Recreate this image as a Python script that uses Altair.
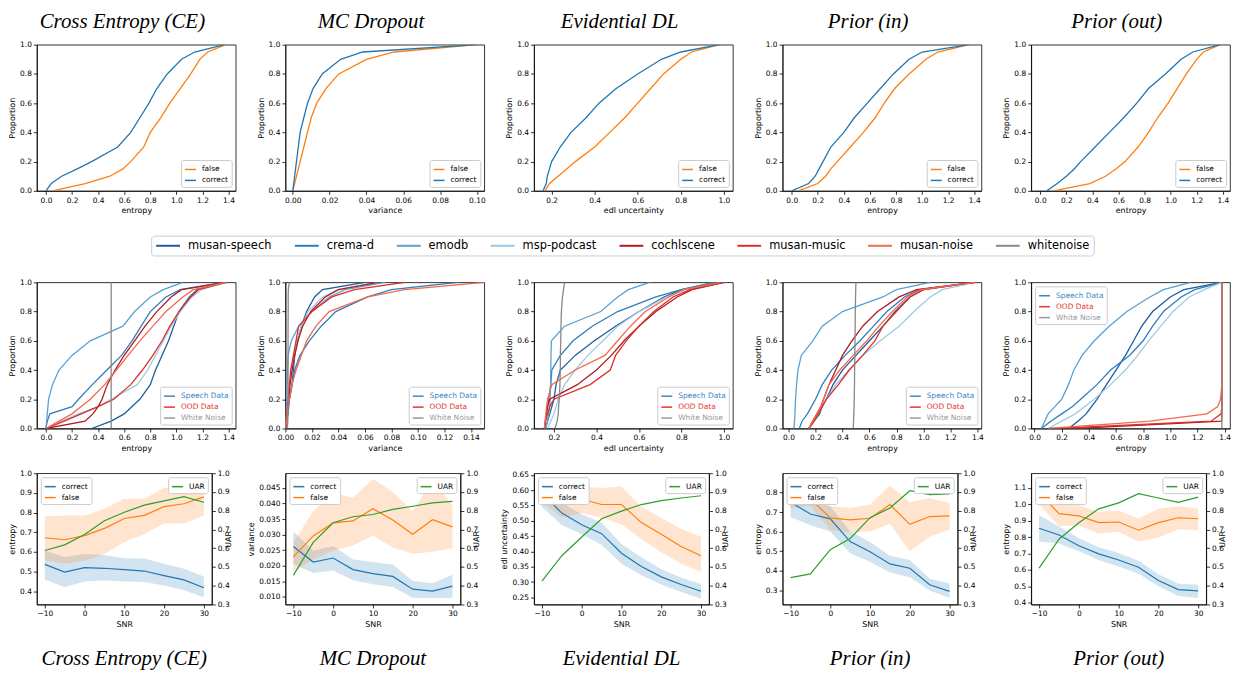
import altair as alt
import pandas as pd

# ---------------- data ----------------
LEVELS = [0.0, 0.05, 0.1, 0.15, 0.2, 0.3, 0.4, 0.5, 0.6, 0.7, 0.8, 0.9, 0.95, 1.0]

METHODS = ["Cross Entropy (CE)", "MC Dropout", "Evidential DL", "Prior (in)", "Prior (out)"]
XTITLES = ["entropy", "variance", "edl uncertainty", "entropy", "entropy"]

# Row 1: CDF of uncertainty, x value reached at each proportion level
CE_CORRECT = [0.0, 0.04, 0.12, 0.24, 0.35, 0.55, 0.65, 0.72, 0.79, 0.85, 0.93, 1.04, 1.14, 1.37]
CE_FALSE = [0.05, 0.3, 0.49, 0.59, 0.65, 0.75, 0.8, 0.88, 0.95, 1.03, 1.11, 1.18, 1.24, 1.38]
MC_CORRECT = [0.0, 0.0005, 0.001, 0.0015, 0.002, 0.003, 0.004, 0.006, 0.008, 0.011, 0.016, 0.026, 0.038, 0.1]
MC_FALSE = [0.0, 0.001, 0.002, 0.003, 0.004, 0.006, 0.008, 0.01, 0.013, 0.018, 0.025, 0.04, 0.055, 0.1]
EDL_CORRECT = [0.16, 0.175, 0.18, 0.19, 0.2, 0.24, 0.29, 0.36, 0.42, 0.5, 0.6, 0.71, 0.8, 0.98]
EDL_FALSE = [0.17, 0.19, 0.23, 0.27, 0.31, 0.4, 0.47, 0.54, 0.6, 0.66, 0.72, 0.8, 0.85, 0.98]
PIN_CORRECT = [0.0, 0.13, 0.18, 0.21, 0.24, 0.3, 0.4, 0.48, 0.58, 0.68, 0.78, 0.9, 1.0, 1.36]
PIN_FALSE = [0.05, 0.2, 0.26, 0.3, 0.35, 0.45, 0.55, 0.64, 0.71, 0.79, 0.9, 1.03, 1.12, 1.36]
POUT_CORRECT = [0.05, 0.13, 0.2, 0.26, 0.31, 0.42, 0.53, 0.64, 0.74, 0.83, 0.96, 1.08, 1.17, 1.38]
POUT_FALSE = [0.1, 0.38, 0.5, 0.58, 0.65, 0.75, 0.83, 0.9, 0.98, 1.05, 1.12, 1.2, 1.25, 1.38]

TOP_CORRECT = [CE_CORRECT, MC_CORRECT, EDL_CORRECT, PIN_CORRECT, POUT_CORRECT]
TOP_FALSE = [CE_FALSE, MC_FALSE, EDL_FALSE, PIN_FALSE, POUT_FALSE]

# Row 2: CDF per dataset
DATASETS = ["musan-speech", "crema-d", "emodb", "msp-podcast",
            "cochlscene", "musan-music", "musan-noise", "whitenoise"]

CE2_MUSAN_SPEECH = [0.35, 0.5, 0.6, 0.66, 0.72, 0.8, 0.84, 0.89, 0.94, 0.98, 1.02, 1.1, 1.16, 1.38]
CE2_CREMA_D = [0.0, 0.01, 0.03, 0.2, 0.25, 0.355, 0.467, 0.58, 0.66, 0.73, 0.8, 0.92, 1.03, 1.36]
CE2_EMODB = [0.0, 0.005, 0.01, 0.015, 0.02, 0.05, 0.1, 0.2, 0.34, 0.59, 0.68, 0.8, 0.9, 1.05]
CE2_MSP_PODCAST = [0.0, 0.12, 0.25, 0.4, 0.5, 0.7, 0.78, 0.84, 0.9, 0.96, 1.03, 1.12, 1.19, 1.38]
CE2_COCHLSCENE = [0.0, 0.3, 0.36, 0.4, 0.43, 0.47, 0.53, 0.6, 0.68, 0.76, 0.85, 0.96, 1.04, 1.38]
CE2_MUSAN_MUSIC = [0.0, 0.14, 0.27, 0.4, 0.52, 0.65, 0.74, 0.82, 0.89, 0.95, 1.02, 1.11, 1.17, 1.38]
CE2_MUSAN_NOISE = [0.0, 0.1, 0.2, 0.27, 0.34, 0.45, 0.54, 0.63, 0.72, 0.82, 0.92, 1.05, 1.13, 1.38]
CE2_WHITENOISE = [0.5, 0.5, 0.5, 0.5, 0.5, 0.5, 0.5, 0.5, 0.5, 0.5, 0.5, 0.5, 0.5, 0.5]

MC2_MUSAN_SPEECH = [0.0, 0.001, 0.002, 0.0025, 0.003, 0.005, 0.006, 0.007, 0.009, 0.012, 0.016, 0.022, 0.028, 0.06]
MC2_CREMA_D = [0.0, 0.001, 0.0015, 0.002, 0.003, 0.005, 0.007, 0.011, 0.018, 0.027, 0.038, 0.062, 0.08, 0.13]
MC2_EMODB = [0.0, 0.0003, 0.0005, 0.0008, 0.001, 0.0013, 0.0016, 0.002, 0.0045, 0.01, 0.02, 0.033, 0.045, 0.075]
MC2_MSP_PODCAST = [0.0, 0.0005, 0.001, 0.0015, 0.002, 0.003, 0.005, 0.0065, 0.0085, 0.012, 0.017, 0.028, 0.04, 0.07]
MC2_COCHLSCENE = [0.0, 0.0008, 0.0015, 0.002, 0.0025, 0.0035, 0.005, 0.007, 0.0095, 0.013, 0.019, 0.03, 0.04, 0.07]
MC2_MUSAN_MUSIC = [0.0, 0.0005, 0.001, 0.0015, 0.002, 0.003, 0.004, 0.006, 0.008, 0.01, 0.02, 0.035, 0.052, 0.09]
MC2_MUSAN_NOISE = [0.0, 0.001, 0.0015, 0.002, 0.003, 0.005, 0.008, 0.012, 0.016, 0.023, 0.033, 0.062, 0.09, 0.15]
MC2_WHITENOISE = [0.0015, 0.0018, 0.0019, 0.002, 0.002, 0.002, 0.002, 0.002, 0.002, 0.002, 0.0021, 0.0021, 0.0022, 0.003]

EDL2_MUSAN_SPEECH = [0.16, 0.17, 0.18, 0.19, 0.2, 0.21, 0.23, 0.3, 0.39, 0.49, 0.6, 0.72, 0.8, 0.97]
EDL2_CREMA_D = [0.155, 0.16, 0.165, 0.17, 0.175, 0.185, 0.19, 0.23, 0.29, 0.38, 0.5, 0.68, 0.8, 0.95]
EDL2_EMODB = [0.16, 0.17, 0.175, 0.18, 0.182, 0.184, 0.185, 0.186, 0.188, 0.25, 0.42, 0.5, 0.55, 0.65]
EDL2_MSP_PODCAST = [0.17, 0.185, 0.2, 0.21, 0.22, 0.25, 0.3, 0.36, 0.43, 0.5, 0.6, 0.73, 0.82, 1.0]
EDL2_COCHLSCENE = [0.155, 0.16, 0.165, 0.17, 0.18, 0.31, 0.4, 0.47, 0.53, 0.6, 0.68, 0.78, 0.85, 1.0]
EDL2_MUSAN_MUSIC = [0.155, 0.16, 0.17, 0.18, 0.2, 0.37, 0.465, 0.49, 0.54, 0.6, 0.67, 0.76, 0.84, 1.0]
EDL2_MUSAN_NOISE = [0.155, 0.158, 0.162, 0.165, 0.17, 0.19, 0.3, 0.44, 0.5, 0.56, 0.63, 0.74, 0.81, 0.98]
EDL2_WHITENOISE = [0.205, 0.215, 0.22, 0.222, 0.225, 0.228, 0.23, 0.23, 0.232, 0.233, 0.235, 0.24, 0.245, 0.25]

PIN2_MUSAN_SPEECH = [0.15, 0.19, 0.23, 0.25, 0.28, 0.33, 0.4, 0.5, 0.6, 0.7, 0.79, 0.9, 1.0, 1.38]
PIN2_CREMA_D = [0.08, 0.1, 0.14, 0.17, 0.2, 0.25, 0.32, 0.42, 0.53, 0.63, 0.73, 0.86, 0.97, 1.38]
PIN2_EMODB = [0.04, 0.045, 0.048, 0.05, 0.052, 0.06, 0.07, 0.095, 0.18, 0.25, 0.4, 0.7, 0.8, 1.05]
PIN2_MSP_PODCAST = [0.15, 0.19, 0.22, 0.25, 0.28, 0.35, 0.45, 0.55, 0.68, 0.82, 0.93, 1.05, 1.14, 1.38]
PIN2_COCHLSCENE = [0.15, 0.18, 0.21, 0.24, 0.26, 0.3, 0.35, 0.4, 0.47, 0.55, 0.66, 0.82, 0.95, 1.38]
PIN2_MUSAN_MUSIC = [0.15, 0.19, 0.22, 0.25, 0.28, 0.37, 0.45, 0.55, 0.64, 0.7, 0.8, 0.9, 1.0, 1.38]
PIN2_MUSAN_NOISE = [0.15, 0.18, 0.21, 0.24, 0.26, 0.3, 0.38, 0.48, 0.58, 0.67, 0.77, 0.88, 0.98, 1.38]
PIN2_WHITENOISE = [0.48, 0.482, 0.484, 0.486, 0.487, 0.489, 0.49, 0.492, 0.493, 0.494, 0.495, 0.497, 0.498, 0.5]

POUT2_MUSAN_SPEECH = [0.25, 0.32, 0.38, 0.42, 0.46, 0.53, 0.6, 0.67, 0.73, 0.79, 0.87, 1.0, 1.1, 1.38]
POUT2_CREMA_D = [0.05, 0.12, 0.2, 0.28, 0.34, 0.46, 0.56, 0.7, 0.8, 0.87, 0.95, 1.08, 1.18, 1.38]
POUT2_EMODB = [0.05, 0.075, 0.1, 0.15, 0.2, 0.25, 0.29, 0.35, 0.44, 0.55, 0.68, 0.85, 0.95, 1.15]
POUT2_MSP_PODCAST = [0.1, 0.2, 0.3, 0.37, 0.44, 0.56, 0.67, 0.76, 0.84, 0.93, 1.02, 1.14, 1.25, 1.38]
POUT2_COCHLSCENE = [0.3, 1.378, 1.38, 1.38, 1.38, 1.38, 1.38, 1.38, 1.38, 1.38, 1.38, 1.38, 1.38, 1.38]
POUT2_MUSAN_MUSIC = [0.15, 1.3, 1.375, 1.38, 1.38, 1.38, 1.38, 1.38, 1.38, 1.38, 1.38, 1.38, 1.38, 1.38]
POUT2_MUSAN_NOISE = [0.1, 0.85, 1.27, 1.35, 1.37, 1.38, 1.38, 1.38, 1.38, 1.38, 1.38, 1.38, 1.38, 1.38]
POUT2_WHITENOISE = [1.38, 1.38, 1.38, 1.38, 1.38, 1.38, 1.38, 1.38, 1.38, 1.38, 1.38, 1.38, 1.38, 1.38]

MID_CURVES = [
    [CE2_MUSAN_SPEECH, CE2_CREMA_D, CE2_EMODB, CE2_MSP_PODCAST, CE2_COCHLSCENE, CE2_MUSAN_MUSIC, CE2_MUSAN_NOISE, CE2_WHITENOISE],
    [MC2_MUSAN_SPEECH, MC2_CREMA_D, MC2_EMODB, MC2_MSP_PODCAST, MC2_COCHLSCENE, MC2_MUSAN_MUSIC, MC2_MUSAN_NOISE, MC2_WHITENOISE],
    [EDL2_MUSAN_SPEECH, EDL2_CREMA_D, EDL2_EMODB, EDL2_MSP_PODCAST, EDL2_COCHLSCENE, EDL2_MUSAN_MUSIC, EDL2_MUSAN_NOISE, EDL2_WHITENOISE],
    [PIN2_MUSAN_SPEECH, PIN2_CREMA_D, PIN2_EMODB, PIN2_MSP_PODCAST, PIN2_COCHLSCENE, PIN2_MUSAN_MUSIC, PIN2_MUSAN_NOISE, PIN2_WHITENOISE],
    [POUT2_MUSAN_SPEECH, POUT2_CREMA_D, POUT2_EMODB, POUT2_MSP_PODCAST, POUT2_COCHLSCENE, POUT2_MUSAN_MUSIC, POUT2_MUSAN_NOISE, POUT2_WHITENOISE],
]
GROUPS = ["Speech Data", "OOD Data", "White Noise"]

# Row 3: uncertainty vs SNR
SNR = [-10, -5, 0, 5, 10, 15, 20, 25, 30]

CE3_C = [0.537, 0.498, 0.52, 0.517, 0.51, 0.503, 0.48, 0.458, 0.418]
CE3_C_LO = [0.459, 0.422, 0.45, 0.455, 0.45, 0.447, 0.43, 0.405, 0.37]
CE3_C_HI = [0.607, 0.574, 0.59, 0.585, 0.568, 0.567, 0.54, 0.515, 0.475]
CE3_F = [0.672, 0.662, 0.683, 0.72, 0.77, 0.786, 0.83, 0.845, 0.88]
CE3_F_LO = [0.557, 0.54, 0.555, 0.59, 0.65, 0.69, 0.745, 0.745, 0.785]
CE3_F_HI = [0.78, 0.785, 0.785, 0.82, 0.87, 0.87, 0.925, 0.935, 0.955]
CE3_UAR = [0.588, 0.618, 0.673, 0.747, 0.792, 0.83, 0.853, 0.875, 0.845]

MC3_C = [0.0262, 0.0212, 0.0225, 0.0188, 0.0175, 0.0166, 0.0125, 0.0119, 0.0135]
MC3_C_LO = [0.0206, 0.0177, 0.0185, 0.0154, 0.0141, 0.0132, 0.0098, 0.0096, 0.0098]
MC3_C_HI = [0.0310, 0.0248, 0.0264, 0.0220, 0.0212, 0.0204, 0.0151, 0.0144, 0.0171]
MC3_F = [0.0229, 0.0296, 0.0338, 0.0344, 0.0383, 0.0347, 0.0301, 0.0348, 0.0325]
MC3_F_LO = [0.0179, 0.0220, 0.0248, 0.0265, 0.0297, 0.0259, 0.0239, 0.0245, 0.0256]
MC3_F_HI = [0.0275, 0.0375, 0.0434, 0.0418, 0.0479, 0.0437, 0.0375, 0.0476, 0.0393]
MC3_UAR = [0.455, 0.631, 0.736, 0.768, 0.78, 0.807, 0.824, 0.842, 0.85]

EDL3_C = [0.59, 0.525, 0.487, 0.458, 0.394, 0.351, 0.317, 0.292, 0.27]
EDL3_C_LO = [0.545, 0.486, 0.456, 0.422, 0.36, 0.322, 0.292, 0.268, 0.246]
EDL3_C_HI = [0.624, 0.559, 0.521, 0.494, 0.424, 0.381, 0.342, 0.314, 0.294]
EDL3_F = [0.595, 0.556, 0.571, 0.553, 0.553, 0.494, 0.456, 0.416, 0.386]
EDL3_F_LO = [0.56, 0.51, 0.525, 0.51, 0.489, 0.44, 0.397, 0.36, 0.333]
EDL3_F_HI = [0.63, 0.598, 0.612, 0.607, 0.612, 0.545, 0.51, 0.473, 0.448]
EDL3_UAR = [0.425, 0.56, 0.66, 0.757, 0.798, 0.833, 0.854, 0.868, 0.88]

PIN3_C = [0.75, 0.69, 0.665, 0.549, 0.497, 0.435, 0.413, 0.329, 0.295]
PIN3_C_LO = [0.674, 0.632, 0.6, 0.49, 0.446, 0.391, 0.367, 0.3, 0.261]
PIN3_C_HI = [0.822, 0.755, 0.729, 0.6, 0.547, 0.477, 0.455, 0.359, 0.334]
PIN3_F = [0.788, 0.768, 0.67, 0.66, 0.668, 0.738, 0.637, 0.677, 0.68]
PIN3_F_LO = [0.72, 0.729, 0.608, 0.595, 0.6, 0.64, 0.5, 0.574, 0.611]
PIN3_F_HI = [0.859, 0.822, 0.729, 0.72, 0.738, 0.835, 0.75, 0.771, 0.746]
PIN3_UAR = [0.443, 0.463, 0.592, 0.652, 0.763, 0.815, 0.907, 0.886, 0.89]

POUT3_C = [0.854, 0.813, 0.747, 0.697, 0.66, 0.616, 0.535, 0.479, 0.471]
POUT3_C_LO = [0.773, 0.761, 0.713, 0.66, 0.62, 0.576, 0.5, 0.44, 0.428]
POUT3_C_HI = [0.933, 0.864, 0.793, 0.737, 0.703, 0.656, 0.572, 0.515, 0.509]
POUT3_F = [1.07, 0.943, 0.929, 0.888, 0.892, 0.842, 0.888, 0.918, 0.912]
POUT3_F_LO = [0.999, 0.868, 0.87, 0.822, 0.832, 0.773, 0.797, 0.848, 0.842]
POUT3_F_HI = [1.14, 1.019, 0.995, 0.955, 0.963, 0.914, 0.973, 0.989, 0.975]
POUT3_UAR = [0.494, 0.648, 0.736, 0.81, 0.842, 0.891, 0.868, 0.845, 0.873]

SNR_ROWS = [
    (CE3_C, CE3_C_LO, CE3_C_HI, CE3_F, CE3_F_LO, CE3_F_HI, CE3_UAR),
    (MC3_C, MC3_C_LO, MC3_C_HI, MC3_F, MC3_F_LO, MC3_F_HI, MC3_UAR),
    (EDL3_C, EDL3_C_LO, EDL3_C_HI, EDL3_F, EDL3_F_LO, EDL3_F_HI, EDL3_UAR),
    (PIN3_C, PIN3_C_LO, PIN3_C_HI, PIN3_F, PIN3_F_LO, PIN3_F_HI, PIN3_UAR),
    (POUT3_C, POUT3_C_LO, POUT3_C_HI, POUT3_F, POUT3_F_LO, POUT3_F_HI, POUT3_UAR),
]

# axis ticks / domains
ENTROPY_TICKS = [0.0, 0.2, 0.4, 0.6, 0.8, 1.0, 1.2, 1.4]
PROP_TICKS = [0.0, 0.2, 0.4, 0.6, 0.8, 1.0]
TOP_XTICKS = [ENTROPY_TICKS, [0.0, 0.02, 0.04, 0.06, 0.08, 0.10], [0.2, 0.4, 0.6, 0.8, 1.0], ENTROPY_TICKS, ENTROPY_TICKS]
MID_XTICKS = [ENTROPY_TICKS, [0.0, 0.02, 0.04, 0.06, 0.08, 0.10, 0.12, 0.14], [0.2, 0.4, 0.6, 0.8, 1.0], ENTROPY_TICKS, ENTROPY_TICKS]
X_FORMATS = [".1f", ".2f", ".1f", ".1f", ".1f"]
TOP_XDOM = [[-0.07, 1.455], [-0.004, 0.104], [0.118, 1.042], [-0.07, 1.455], [-0.07, 1.455]]
MID_XDOM = [[-0.07, 1.455], [0.0, 0.15], [0.106, 1.042], [-0.044, 1.43], [-0.025, 1.44]]
SNR_TICKS = [-10, 0, 10, 20, 30]
UAR_TICKS = [0.3, 0.4, 0.5, 0.6, 0.7, 0.8, 0.9, 1.0]
BOT_YDOM = [[0.333, 1.0], [0.0076, 0.0497], [0.227, 0.655], [0.228, 0.898], [0.388, 1.19]]
BOT_YTICKS = [
    [0.4, 0.5, 0.6, 0.7, 0.8, 0.9, 1.0],
    [0.010, 0.015, 0.020, 0.025, 0.030, 0.035, 0.040, 0.045],
    [0.25, 0.30, 0.35, 0.40, 0.45, 0.50, 0.55, 0.60, 0.65],
    [0.3, 0.4, 0.5, 0.6, 0.7, 0.8],
    [0.4, 0.5, 0.6, 0.7, 0.8, 0.9, 1.0, 1.1],
]
BOT_YFORMAT = [".1f", ".3f", ".2f", ".1f", ".1f"]

# ---------------- style ----------------
BLUE, ORANGE, GREEN = "#1f77b4", "#ff7f0e", "#2ca02c"
DS_COLORS = ["#1b5e9f", "#2f7dbf", "#5aa1d2", "#9ecae3", "#b01a20", "#dd2f2a", "#f4694e", "#888888"]
GROUP_COLORS = ["#3a87c8", "#e4352f", "#999999"]
FONT = "DejaVu Sans"
SERIF = "Liberation Serif"
TOP_W, TOP_H = 200, 147
BOT_W, BOT_H = 176, 132


def small_legend(orient, **kw):
    return alt.Legend(title=None, orient=orient, offset=4, fillColor="white",
                      strokeColor="#cccccc", padding=3, cornerRadius=2,
                      symbolType="stroke", symbolSize=121, symbolStrokeWidth=1.5,
                      labelFont=FONT, labelFontSize=7.5, rowPadding=1,
                      labelOffset=5, symbolOpacity=1, **kw)


def cdf_frame(names, curves):
    rows = []
    for name, xs in zip(names, curves):
        for i, (p, x) in enumerate(zip(LEVELS, xs)):
            rows.append({"series": name, "x": x, "p": p, "i": i})
    return pd.DataFrame(rows)


def y_prop():
    return alt.Y("p:Q", scale=alt.Scale(domain=[0, 1], nice=False),
                 axis=alt.Axis(title="Proportion", values=PROP_TICKS, format=".1f"))


def title_top(k):
    return alt.TitleParams(METHODS[k], font=SERIF, fontSize=21, fontStyle="italic",
                           fontWeight="normal", color="black", anchor="middle", offset=9, dx=-14)


def title_bottom(k):
    return alt.TitleParams(METHODS[k], font=SERIF, fontSize=21, fontStyle="italic",
                           fontWeight="normal", color="black", anchor="middle",
                           orient="bottom", offset=20)


def top_panel(k):
    df = cdf_frame(["false", "correct"], [TOP_FALSE[k], TOP_CORRECT[k]])
    return alt.Chart(df).mark_line(strokeWidth=1.3, clip=True).encode(
        x=alt.X("x:Q", scale=alt.Scale(domain=TOP_XDOM[k], nice=False, zero=False),
                axis=alt.Axis(title=XTITLES[k], values=TOP_XTICKS[k], format=X_FORMATS[k])),
        y=y_prop(),
        color=alt.Color("series:N", scale=alt.Scale(domain=["false", "correct"], range=[ORANGE, BLUE]),
                        legend=small_legend("bottom-right")),
        order="i:Q",
    ).properties(width=TOP_W, height=TOP_H, title=title_top(k))


def mid_panel(k):
    df = cdf_frame(DATASETS, MID_CURVES[k])
    curves = alt.Chart(df).mark_line(strokeWidth=1.3, clip=True).encode(
        x=alt.X("x:Q", scale=alt.Scale(domain=MID_XDOM[k], nice=False, zero=False),
                axis=alt.Axis(title=XTITLES[k], values=MID_XTICKS[k], format=X_FORMATS[k])),
        y=y_prop(),
        color=alt.Color("series:N", scale=alt.Scale(domain=DATASETS, range=DS_COLORS), legend=None),
        order="i:Q",
    )
    gdf = pd.DataFrame({"grp": GROUPS})
    label_expr = ("datum.label == 'Speech Data' ? '%s' : datum.label == 'OOD Data' ? '%s' : '%s'"
                  % (GROUP_COLORS[0], GROUP_COLORS[1], GROUP_COLORS[2]))
    leg = alt.Chart(gdf).mark_point(opacity=0).encode(
        color=alt.Color("grp:N", scale=alt.Scale(domain=GROUPS, range=GROUP_COLORS),
                        legend=small_legend("top-left" if k == 4 else "bottom-right",
                                            labelColor=alt.ExprRef(label_expr)))
    )
    return alt.layer(curves, leg).resolve_scale(color="independent").properties(
        width=TOP_W, height=TOP_H)


def bot_panel(k):
    c, clo, chi, f, flo, fhi, uar = SNR_ROWS[k]
    wide = pd.DataFrame({"snr": SNR, "cl": clo, "ch": chi, "fl": flo, "fh": fhi,
                         "uar": uar, "lab": ["UAR"] * len(SNR)})
    long = pd.DataFrame({"snr": SNR + SNR, "val": c + f,
                         "kind": ["correct"] * len(SNR) + ["false"] * len(SNR)})
    xenc = alt.X("snr:Q", scale=alt.Scale(domain=[-12, 32], nice=False, zero=False),
                 axis=alt.Axis(title="SNR", values=SNR_TICKS, format="d",
                               labelExpr="replace(datum.label, '-', '\u2212')"))
    yscale = alt.Scale(domain=BOT_YDOM[k], nice=False, zero=False)
    yaxis = alt.Axis(title=XTITLES[k], values=BOT_YTICKS[k], format=BOT_YFORMAT[k], orient="left")
    band_c = alt.Chart(wide).mark_area(color=BLUE, opacity=0.2, clip=True).encode(
        x=xenc, y=alt.Y("cl:Q", scale=yscale, axis=yaxis), y2="ch:Q")
    band_f = alt.Chart(wide).mark_area(color=ORANGE, opacity=0.2, clip=True).encode(
        x=xenc, y=alt.Y("fl:Q", scale=yscale, axis=yaxis), y2="fh:Q")
    lines = alt.Chart(long).mark_line(strokeWidth=1.2, clip=True).encode(
        x=xenc, y=alt.Y("val:Q", scale=yscale, axis=yaxis),
        color=alt.Color("kind:N", scale=alt.Scale(domain=["correct", "false"], range=[BLUE, ORANGE]),
                        legend=small_legend("top-left")))
    left = alt.layer(band_c, band_f, lines)
    uar_line = alt.Chart(wide).mark_line(strokeWidth=1.2, clip=True).encode(
        x=xenc,
        y=alt.Y("uar:Q", scale=alt.Scale(domain=[0.3, 1.0], nice=False, zero=False),
                axis=alt.Axis(title="UAR", values=UAR_TICKS, format=".1f", orient="right", titleAngle=270)),
        color=alt.Color("lab:N", scale=alt.Scale(domain=["UAR"], range=[GREEN]),
                        legend=small_legend("top-right")))
    return alt.layer(left, uar_line).resolve_scale(y="independent", color="independent").properties(
        width=BOT_W, height=BOT_H, title=title_bottom(k))


legend_chart = alt.Chart(pd.DataFrame({"ds": DATASETS})).mark_point(opacity=0).encode(
    color=alt.Color("ds:N", scale=alt.Scale(domain=DATASETS, range=DS_COLORS),
                    legend=alt.Legend(title=None, orient="none", legendX=115, legendY=0,
                                      direction="horizontal", columns=8, columnPadding=18.5,
                                      symbolType="M-1,0H3.8", symbolSize=100, symbolStrokeWidth=2,
                                      symbolOpacity=1, labelFont=FONT, labelFontSize=11.5,
                                      labelColor="black", labelOffset=21, padding=4,
                                      fillColor="white", strokeColor="#cccccc", cornerRadius=3))
).properties(width=TOP_W, height=2, view=alt.ViewBackground(stroke="transparent"))


def filler():
    return alt.Chart(pd.DataFrame({"a": [0]})).mark_point(opacity=0).encode(
        x=alt.value(0), y=alt.value(0)
    ).properties(width=TOP_W, height=2, view=alt.ViewBackground(stroke="transparent"))


cells = ([top_panel(k) for k in range(5)]
         + [legend_chart] + [filler() for _ in range(4)]
         + [mid_panel(k) for k in range(5)]
         + [bot_panel(k) for k in range(5)])

chart = alt.concat(
    *cells, columns=5, spacing={"row": 45, "column": 50}, bounds="flush", align="each"
).resolve_scale(
    x="independent", y="independent", color="independent"
).properties(
    padding=0, background="white"
).configure_view(
    stroke="black", strokeWidth=0.8
).configure_axis(
    labelFont=FONT, labelFontSize=7.5, labelColor="black", titleFont=FONT, titleFontSize=8,
    titleFontWeight="normal", titleColor="black", tickColor="black", domainColor="black",
    tickSize=3.5, tickWidth=0.8, domainWidth=0.8, grid=False, labelPadding=2, titlePadding=3,
    labelFlush=False, labelOverlap=False, labelBound=False
)

chart.save("out.html", embed_options={"renderer": "svg", "actions": False})
